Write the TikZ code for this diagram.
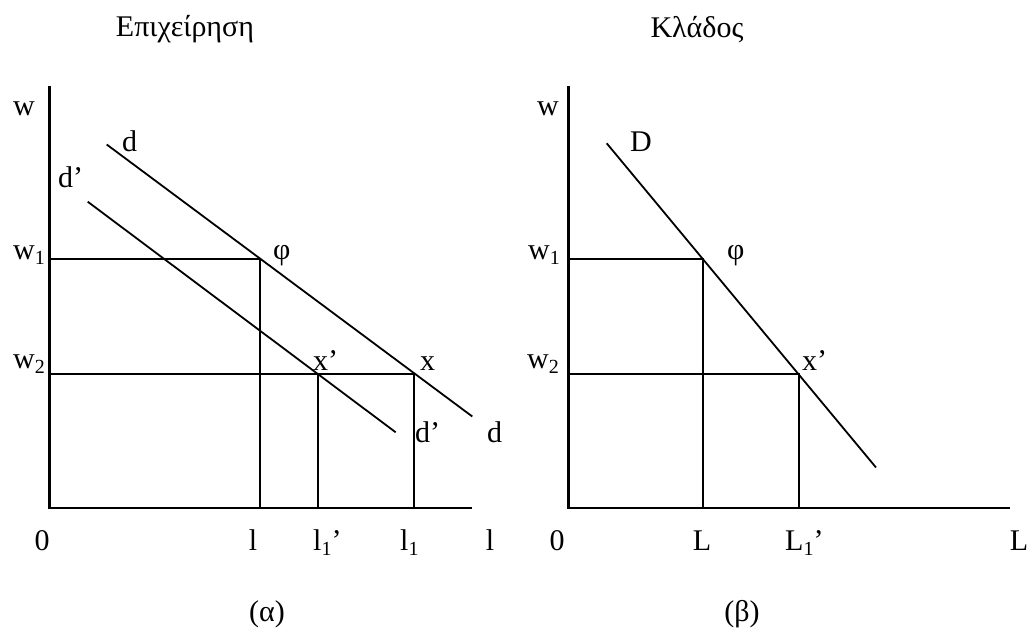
\documentclass[tikz,border=0pt]{standalone}
\usepackage{fontspec}
\setmainfont{Liberation Serif}
\begin{document}
\begin{tikzpicture}[x=1pt,y=-1pt,
  axis/.style={line width=2.4pt},
  thin/.style={line width=1.8pt},
  lbl/.style={inner sep=0pt,font=\fontsize{30}{34}\selectfont},
  lblB/.style={lbl,anchor=base west},
  lblC/.style={lbl,anchor=base}]
\useasboundingbox (0,0) rectangle (1030,628);
\newcommand{\sbs}[1]{\raisebox{-5pt}{\fontsize{20}{20}\selectfont #1}}
% ---------- left panel ----------
\coordinate (Ltop) at (49.5,86);
\coordinate (Lo) at (49.5,508);
\coordinate (Lend) at (472,508);
\coordinate (Lw1) at (49.5,258.8);
\coordinate (Lw2) at (49.5,374.2);
\coordinate (Lphi) at (260.3,258.8);
\coordinate (Lx) at (414.3,374.2);
\coordinate (Lxp) at (318.3,374.2);
\coordinate (Ll) at (260.3,508);
\coordinate (Ll1p) at (318.3,508);
\coordinate (Ll1) at (414.3,508);
\coordinate (dA) at (106.7,144.5);
\coordinate (dB) at (472.3,416.5);
\coordinate (dpA) at (87.7,201.7);
\coordinate (dpB) at (395.7,432.3);
\draw[axis] (Ltop) -- (Lo) -- (Lend);
\draw[thin] (Lw1) -- (Lphi) -- (Ll);
\draw[thin] (Lw2) -- (Lx) -- (Ll1);
\draw[thin] (Lxp) -- (Ll1p);
\draw[thin] (dA) -- (dB);
\draw[thin] (dpA) -- (dpB);
\node[lblC] (t1) at (185,37) {Επιχείρηση};
\node[lblB] (Lwl) at (13,116) {w};
\node[lblB] (dl) at (122,152) {d};
\node[lblB] (dpl) at (58,188) {d’};
\node[lblB] (w1l) at (13,260) {w\sbs{1}};
\node[lblB] (w2l) at (13,368) {w\sbs{2}};
\node[lblB] (phil) at (273,260) {φ};
\node[lblB] (xpl) at (313,370) {x’};
\node[lblB] (xl) at (420,370) {x};
\node[lblB] (dpl2) at (415,442) {d’};
\node[lblB] (dl2) at (487,442) {d};
\node[lblC] (z1) at (42,550) {0};
\node[lblC] (lA) at (253,550) {l};
\node[lblB] (l1p) at (313,550) {l\sbs{1}’};
\node[lblB] (l1) at (400,550) {l\sbs{1}};
\node[lblC] (lB) at (490,550) {l};
\node[lblC] (alpha) at (267,621) {(α)};
% ---------- right panel ----------
\coordinate (Rtop) at (568.3,86);
\coordinate (Ro) at (568.3,508);
\coordinate (Rend) at (1010,508);
\coordinate (Rw1) at (568.3,258.8);
\coordinate (Rw2) at (568.3,374.2);
\coordinate (Rphi) at (702.7,258.8);
\coordinate (Rxp) at (798.7,374.2);
\coordinate (RL) at (702.7,508);
\coordinate (RL1p) at (798.7,508);
\coordinate (DA) at (606.7,143.3);
\coordinate (DB) at (876,467.5);
\draw[axis] (Rtop) -- (Ro) -- (Rend);
\draw[thin] (Rw1) -- (Rphi) -- (RL);
\draw[thin] (Rw2) -- (Rxp) -- (RL1p);
\draw[thin] (DA) -- (DB);
\node[lblC] (t2) at (697,38) {Κλάδος};
\node[lblB] (Rwl) at (537,116) {w};
\node[lblB] (Dl) at (630,152) {D};
\node[lblB] (Rw1l) at (528,260) {w\sbs{1}};
\node[lblB] (Rw2l) at (527,368) {w\sbs{2}};
\node[lblB] (Rphil) at (727,260) {φ};
\node[lblB] (Rxpl) at (802,370) {x’};
\node[lblC] (z2) at (557,550) {0};
\node[lblC] (RLl) at (702,550) {L};
\node[lblB] (RL1pl) at (785,550) {L\sbs{1}’};
\node[lblC] (RLl2) at (1019,550) {L};
\node[lblC] (beta) at (742,621) {(β)};
\end{tikzpicture}
\end{document}
